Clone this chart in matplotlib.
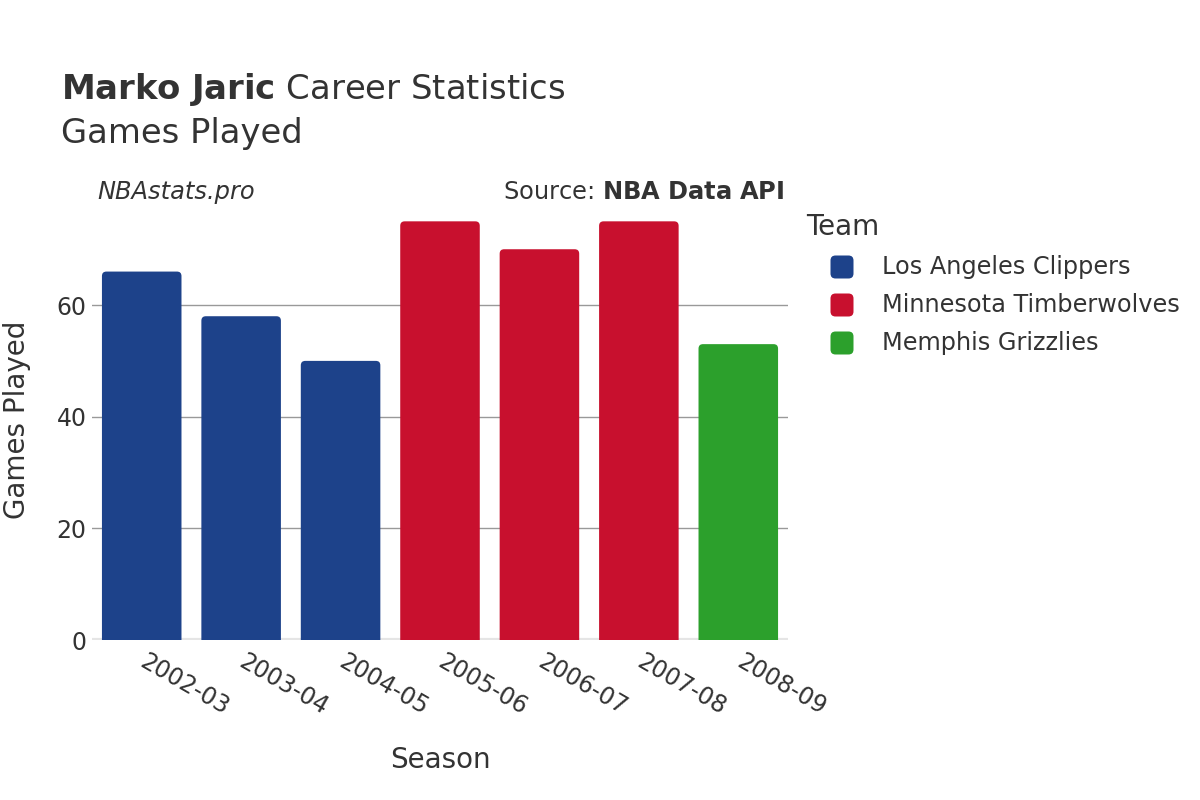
import matplotlib
matplotlib.use("Agg")
import matplotlib.pyplot as plt
from matplotlib.patches import FancyBboxPatch

seasons = ["2002-03", "2003-04", "2004-05", "2005-06", "2006-07", "2007-08", "2008-09"]
games = [66, 58, 50, 75, 70, 75, 53]
teams = ["Los Angeles Clippers", "Los Angeles Clippers", "Los Angeles Clippers",
         "Minnesota Timberwolves", "Minnesota Timberwolves", "Minnesota Timberwolves",
         "Memphis Grizzlies"]
team_order = ["Los Angeles Clippers", "Minnesota Timberwolves", "Memphis Grizzlies"]
team_colors = {"Los Angeles Clippers": "#1D428A",
               "Minnesota Timberwolves": "#C8102E",
               "Memphis Grizzlies": "#2CA02C"}
yticks = [0, 20, 40, 60]

plt.rcParams['font.family'] = ['DejaVu Sans']
txt = "#333333"
W, H = 1200, 800

fig = plt.figure(figsize=(12, 8), dpi=100)
ax_rect = [92 / W, 0.2, 696 / W, 441 / H]
ax = fig.add_axes(ax_rect)
ymax = 79
ax.set_xlim(-0.5, len(seasons) - 0.5)
ax.set_ylim(0, ymax)

x = list(range(len(seasons)))
bars = ax.bar(x, games, width=0.8, color=[team_colors[t] for t in teams])

# rounded tops
xu = len(seasons) / 696
yu = ymax / 441
for b, t in zip(bars, teams):
    b.set_visible(False)
    bx, by, bw, bh = b.get_x(), b.get_y(), b.get_width(), b.get_height()
    p = FancyBboxPatch((bx, by - 2), bw, bh + 2,
                       boxstyle="round,pad=0,rounding_size=0.045",
                       mutation_aspect=yu / xu,
                       facecolor=team_colors[t], edgecolor="none", zorder=2,
                       clip_on=True)
    ax.add_patch(p)

ax.set_yticks(yticks)
ax.yaxis.grid(True, color="#999999", linewidth=1)
ax.set_axisbelow(True)
for s in ax.spines.values():
    s.set_visible(False)
ax.axhline(0, color="#e5e5e5", linewidth=3, zorder=1)
ax.tick_params(axis='both', length=0, labelsize=17, colors=txt)
ax.tick_params(axis='y', pad=4)
ax.set_xticks(x)
ax.set_xticklabels(seasons, rotation=-30, ha='left', va='center', rotation_mode='anchor')
ax.tick_params(axis='x', pad=14)
for lab in ax.get_xticklabels():
    lab.set_color(txt)

ax.set_xlabel("Season", fontsize=20, color=txt)
ax.set_ylabel("Games Played", fontsize=20, color=txt)
ax.xaxis.set_label_coords(0.5, -(760 - 640) / 441, transform=ax.transAxes)
ax.xaxis.label.set_va('center')
ax.yaxis.set_label_coords((17 - 92) / 696, 0.5)
ax.yaxis.label.set_va('center')

# titles
fig.text(61 / W, 1 - 89 / H, r"$\bf{Marko\ Jaric}$" + " Career Statistics",
         fontsize=24.4, color=txt, va='center', ha='left')
fig.text(61 / W, 1 - 133 / H, "Games Played", fontsize=24.4, color=txt, va='center', ha='left')
fig.text(97 / W, 1 - 192 / H, "NBAstats.pro", fontsize=17.4, style='italic', color=txt,
         va='center', ha='left')
fig.text(784 / W, 1 - 192 / H, r"Source: $\bf{NBA\ Data\ API}$", fontsize=17.4, color=txt,
         va='center', ha='right')

# legend (manual)
fig.text(806 / W, 1 - 227 / H, "Team", fontsize=20, color=txt, va='center', ha='left')
for i, t in enumerate(team_order):
    yc = 267 + 38 * i
    sz = 23
    p = FancyBboxPatch(((842 - sz / 2) / W, 1 - (yc + sz / 2) / H), sz / W, sz / H,
                       boxstyle="round,pad=0,rounding_size=%f" % (5 / W),
                       mutation_aspect=W / H, transform=fig.transFigure,
                       facecolor=team_colors[t], edgecolor="none")
    fig.patches.append(p)
    fig.text(882 / W, 1 - yc / H, t, fontsize=17.3, color=txt, va='center', ha='left')

fig.savefig("out.png", dpi=100)
